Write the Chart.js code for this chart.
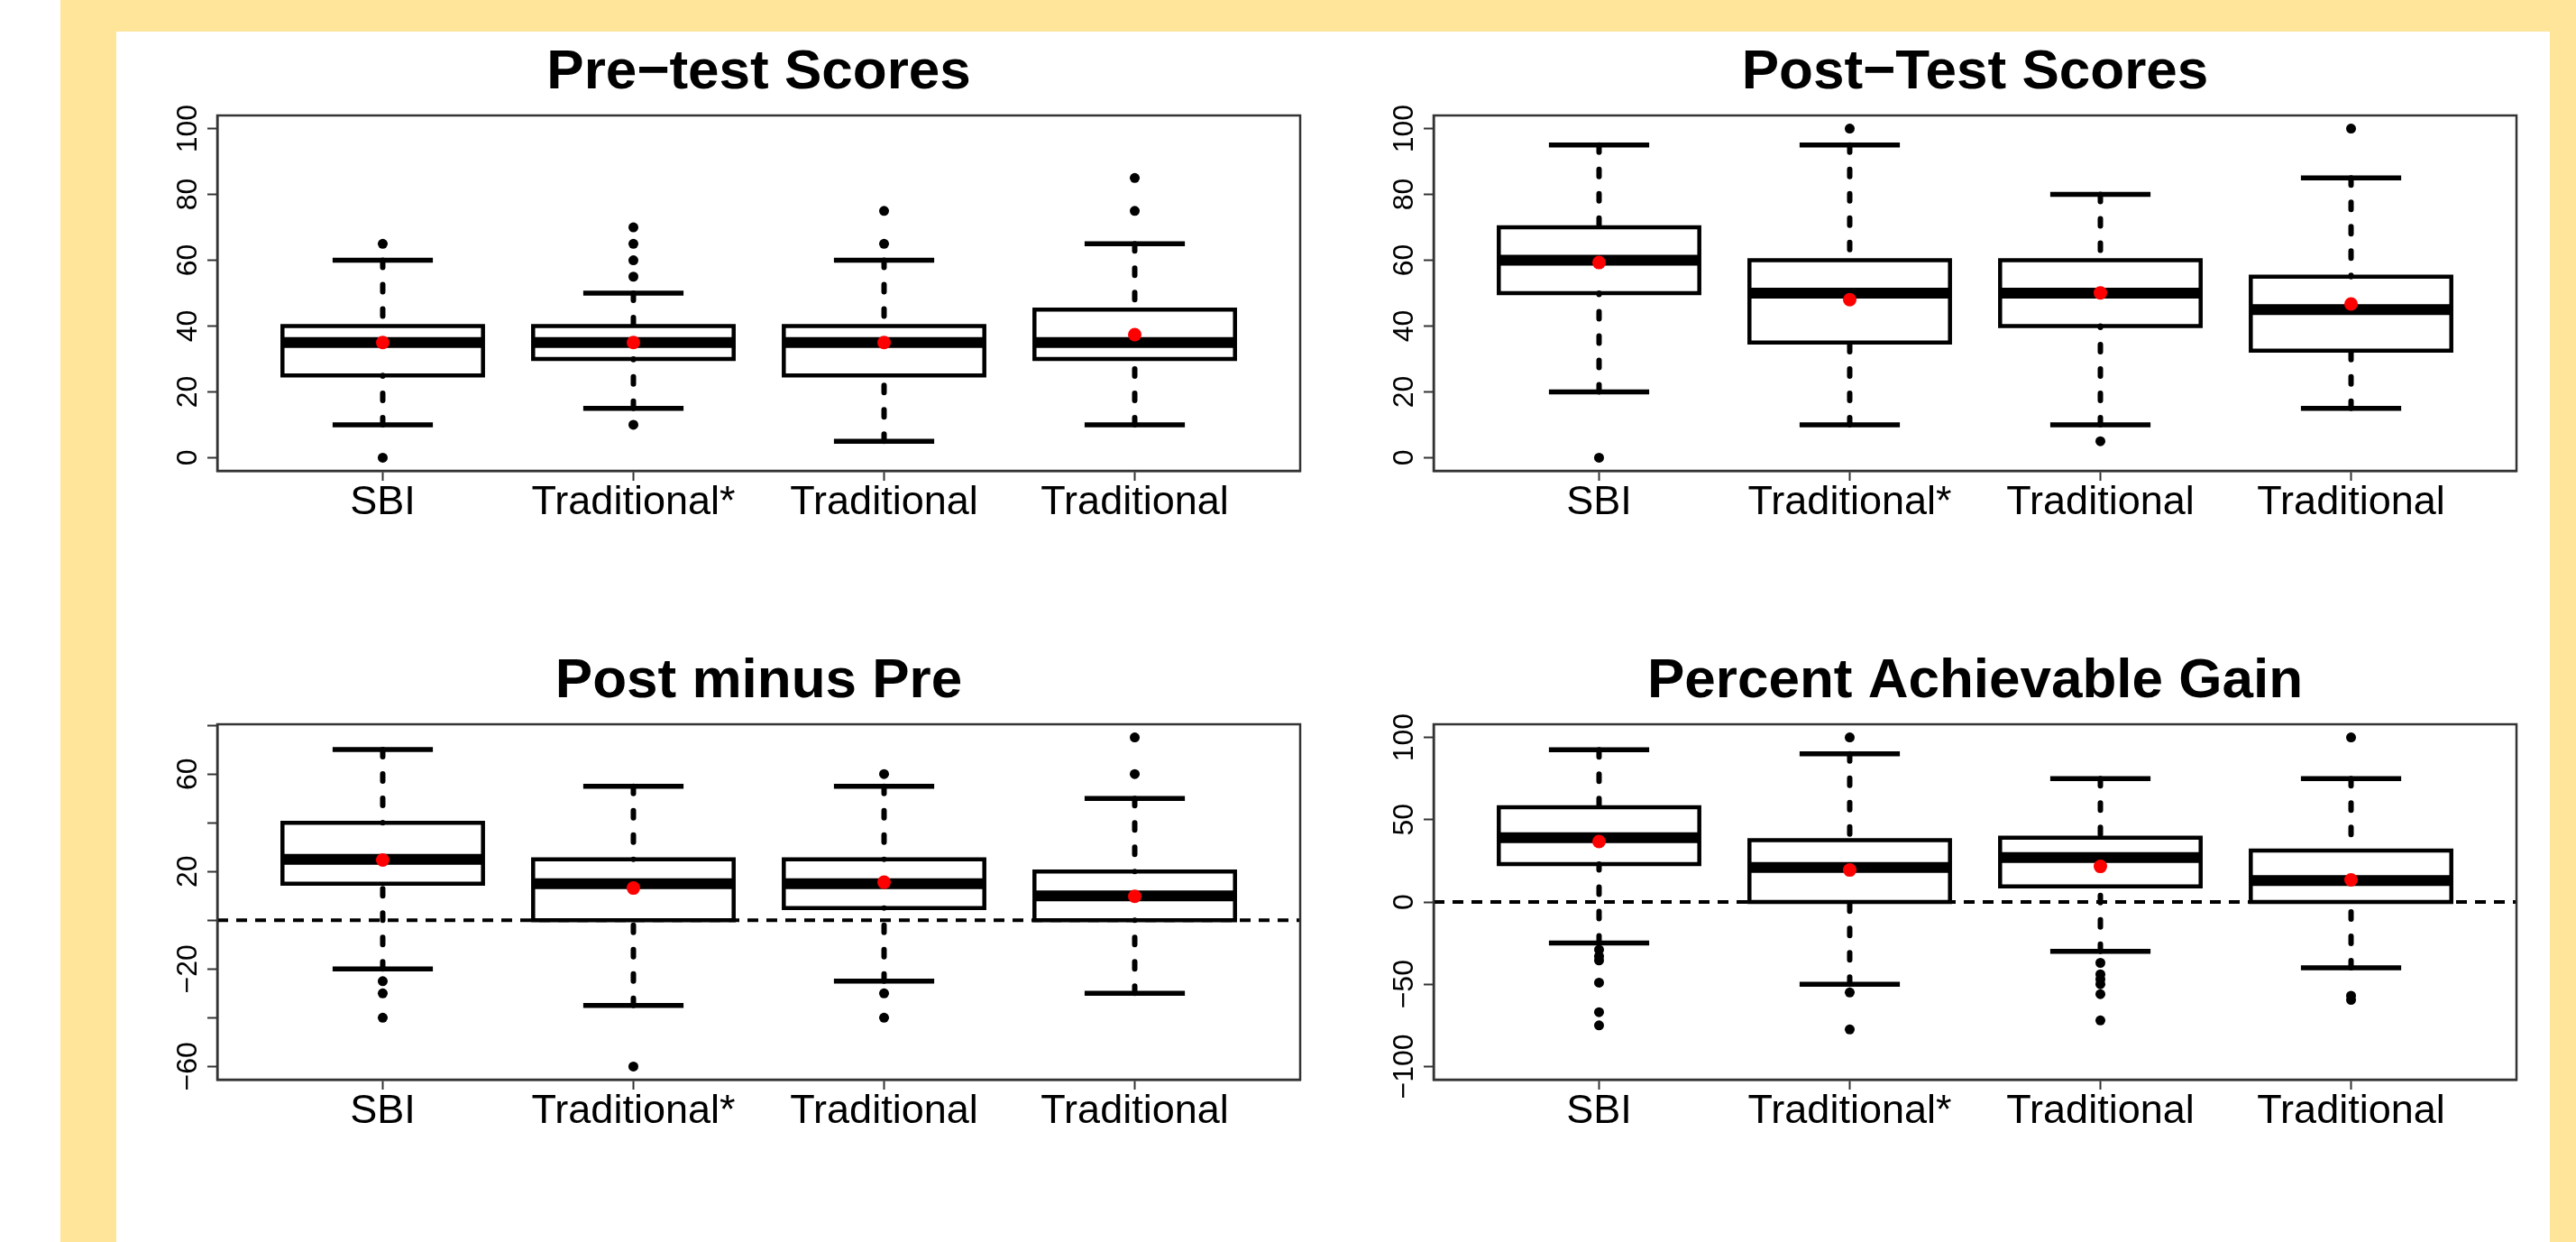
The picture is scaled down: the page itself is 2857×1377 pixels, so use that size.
<!DOCTYPE html>
<html>
<head>
<meta charset="utf-8">
<script src="https://cdn.jsdelivr.net/npm/chart.js@4.4.1/dist/chart.umd.min.js"></script>
<style>
  html, body { margin: 0; padding: 0; background: #ffffff; width: 2857px; height: 1377px; overflow: hidden; }
  #yellow { position: absolute; left: 67px; top: 0; width: 2790px; height: 1377px; background: #FEE59A; }
  #sheet { position: absolute; left: 129px; top: 35px; width: 2699px; height: 1342px; background: #ffffff; }
  canvas { position: absolute; }
</style>
</head>
<body>
<div id="yellow"></div>
<div id="sheet"></div>
<canvas id="c0"></canvas>
<canvas id="c1"></canvas>
<canvas id="c2"></canvas>
<canvas id="c3"></canvas>
<script>
// ---------------- DATA ----------------
const categories = ['SBI', 'Traditional*', 'Traditional', 'Traditional'];

// Pre-test Scores
const preLow      = [10, 15, 5, 10];
const preQ1       = [25, 30, 25, 30];
const preMedian   = [35, 35, 35, 35];
const preQ3       = [40, 40, 40, 45];
const preHigh     = [60, 50, 60, 65];
const preMean     = [35, 35, 35, 37.4];
const preOutliers = [[0, 65], [10, 55, 60, 65, 70], [65, 75], [75, 85]];
const preTicks    = [0, 20, 40, 60, 80, 100];

// Post-Test Scores
const postLow      = [20, 10, 10, 15];
const postQ1       = [50, 35, 40, 32.5];
const postMedian   = [60, 50, 50, 45];
const postQ3       = [70, 60, 60, 55];
const postHigh     = [95, 95, 80, 85];
const postMean     = [59.3, 48, 50.1, 46.7];
const postOutliers = [[0], [100], [5], [100]];
const postTicks    = [0, 20, 40, 60, 80, 100];

// Post minus Pre
const gainLow      = [-20, -35, -25, -30];
const gainQ1       = [15, 0, 5, 0];
const gainMedian   = [25, 15, 15, 10];
const gainQ3       = [40, 25, 25, 20];
const gainHigh     = [70, 55, 55, 50];
const gainMean     = [24.7, 13.2, 15.6, 9.8];
const gainOutliers = [[-25, -30, -40], [-60], [60, -30, -40], [60, 75]];
const gainTicks    = [-60, -40, -20, 0, 20, 40, 60, 80];
const gainLabelled = [-60, -20, 20, 60];

// Percent Achievable Gain
const pagLow      = [-25, -50, -30, -40];
const pagQ1       = [23, 0, 9.5, 0];
const pagMedian   = [39, 21, 27, 13];
const pagQ3       = [57.5, 37.5, 39, 31.3];
const pagHigh     = [92.5, 90, 75, 75];
const pagMean     = [36.7, 19.4, 21.6, 13.4];
const pagOutliers = [[-29, -33, -35.5, -49, -67, -75], [100, -55, -77.5], [-37, -44, -47, -50, -56, -72], [100, -57, -59.5]];
const pagTicks    = [-100, -50, 0, 50, 100];

// ---------------- PANELS ----------------
const panels = [
  { title: 'Pre\u2212test Scores',  low: preLow,  q1: preQ1,  med: preMedian,  q3: preQ3,  high: preHigh,  mean: preMean,  out: preOutliers,  ticks: preTicks,  labelled: preTicks,  ymin: -4,    ymax: 104,  zero: false },
  { title: 'Post\u2212Test Scores', low: postLow, q1: postQ1, med: postMedian, q3: postQ3, high: postHigh, mean: postMean, out: postOutliers, ticks: postTicks, labelled: postTicks, ymin: -4,    ymax: 104,  zero: false },
  { title: 'Post minus Pre',        low: gainLow, q1: gainQ1, med: gainMedian, q3: gainQ3, high: gainHigh, mean: gainMean, out: gainOutliers, ticks: gainTicks, labelled: gainLabelled, ymin: -65.4, ymax: 80.4, zero: true },
  { title: 'Percent Achievable Gain', low: pagLow, q1: pagQ1, med: pagMedian, q3: pagQ3, high: pagHigh, mean: pagMean, out: pagOutliers, ticks: pagTicks, labelled: pagTicks, ymin: -108, ymax: 108, zero: true }
];

// ---------------- GEOMETRY / STYLE ----------------
const chartLefts = [241, 1590];
const chartTops = [128, 803];
const CHART_W = 1201, CHART_H = 394;
const Y_AXIS_W = 110, TITLE_H = 100, X_AXIS_H = 100, PAD_R = 10;
const XMIN = 0.34, XMAX = 4.66;
const BOX_HALF = 0.4, CAP_HALF = 0.2;
const FONT = "'Liberation Sans', Arial, Helvetica, sans-serif";
const Y_TICK_SIZE = 32, X_TICK_SIZE = 45, TITLE_SIZE = 62;
const TICK_LEN = 11;
const AXIS_COLOR = '#333333';

function fmt(v) { return (v < 0 ? '\u2212' + Math.abs(v) : String(v)); }

function measure(text, font) {
  const c = document.createElement('canvas').getContext('2d');
  c.font = font;
  return c.measureText(text).width;
}

const framePlugin = {
  id: 'frame',
  afterDraw(chart) {
    const { ctx, chartArea: a } = chart;
    ctx.save();
    ctx.strokeStyle = AXIS_COLOR;
    ctx.lineWidth = 2.5;
    ctx.strokeRect(a.left, a.top, a.right - a.left, a.bottom - a.top);
    ctx.restore();
  }
};

function buildDatasets(p) {
  const gap = x => ({ x: x, y: null });
  const boxPts = [], medPts = [], whiskPts = [], capPts = [], outPts = [], meanPts = [];
  categories.forEach((c, k) => {
    const i = k + 1;
    boxPts.push({ x: i - BOX_HALF, y: p.q1[k] }, { x: i + BOX_HALF, y: p.q1[k] },
                { x: i + BOX_HALF, y: p.q3[k] }, { x: i - BOX_HALF, y: p.q3[k] },
                { x: i - BOX_HALF, y: p.q1[k] }, gap(i));
    medPts.push({ x: i - BOX_HALF, y: p.med[k] }, { x: i + BOX_HALF, y: p.med[k] }, gap(i));
    whiskPts.push({ x: i, y: p.high[k] }, { x: i, y: p.q3[k] }, gap(i));
    whiskPts.push({ x: i, y: p.low[k] }, { x: i, y: p.q1[k] }, gap(i));
    capPts.push({ x: i - CAP_HALF, y: p.high[k] }, { x: i + CAP_HALF, y: p.high[k] }, gap(i));
    capPts.push({ x: i - CAP_HALF, y: p.low[k] }, { x: i + CAP_HALF, y: p.low[k] }, gap(i));
    p.out[k].forEach(v => outPts.push({ x: i, y: v }));
    meanPts.push({ x: i, y: p.mean[k] });
  });
  const seg = (data, width, extra) => Object.assign({
    data: data, borderColor: '#000', borderWidth: width, pointRadius: 0,
    pointHoverRadius: 0, spanGaps: false, fill: false, tension: 0
  }, extra);
  const ds = [
    { data: meanPts, showLine: false, pointRadius: 7.5, pointBackgroundColor: '#ff0000', pointBorderWidth: 0, order: 0 },
    { data: outPts, showLine: false, pointRadius: 5.5, pointBackgroundColor: '#000', pointBorderWidth: 0, order: 1 },
    seg(capPts, 5.5, { borderCapStyle: 'butt', order: 2 }),
    seg(medPts, 12, { borderCapStyle: 'butt', order: 3 }),
    seg(whiskPts, 6, { borderCapStyle: 'round', borderDash: [8, 19], order: 4 }),
    seg(boxPts, 4.5, { borderCapStyle: 'square', borderJoinStyle: 'miter', order: 5 })
  ];
  if (p.zero) {
    ds.push(seg([{ x: XMIN, y: 0 }, { x: XMAX, y: 0 }], 4, { borderDash: [12, 9], borderCapStyle: 'butt', order: 6 }));
  }
  return ds;
}

panels.forEach((p, idx) => {
  const col = idx % 2, row = Math.floor(idx / 2);
  const cv = document.getElementById('c' + idx);
  const w = Y_AXIS_W + CHART_W + PAD_R, h = TITLE_H + CHART_H + X_AXIS_H;
  cv.width = w; cv.height = h;
  cv.style.width = w + 'px'; cv.style.height = h + 'px';
  cv.style.left = (chartLefts[col] - Y_AXIS_W) + 'px';
  cv.style.top = (chartTops[row] - TITLE_H) + 'px';

  const yFont = Y_TICK_SIZE + 'px ' + FONT;
  const labels = p.ticks.map(v => p.labelled.includes(v) ? fmt(v) : '');
  const widest = Math.max(...labels.map(t => measure(t, yFont)));
  const yPad = 32 - TICK_LEN - widest / 2;
  const lh = 1.2 * TITLE_SIZE;
  const titleTop = 52.5 - lh / 2;

  new Chart(cv, {
    type: 'line',
    data: { datasets: buildDatasets(p) },
    plugins: [framePlugin],
    options: {
      responsive: false,
      animation: false,
      devicePixelRatio: 1,
      layout: { padding: { left: 0, right: PAD_R, top: 0, bottom: 0 } },
      plugins: {
        legend: { display: false },
        tooltip: { enabled: false },
        title: {
          display: true, text: p.title, color: '#000', fullSize: false,
          font: { family: FONT, size: TITLE_SIZE, weight: 'bold', lineHeight: 1.2 },
          padding: { top: titleTop, bottom: TITLE_H - titleTop - lh }
        }
      },
      scales: {
        x: {
          type: 'linear', min: XMIN, max: XMAX, offset: false,
          afterBuildTicks: s => { s.ticks = categories.map((c, k) => ({ value: k + 1 })); },
          afterFit: s => { s.height = X_AXIS_H; },
          ticks: {
            autoSkip: false, maxRotation: 0, minRotation: 0, color: '#000', padding: -2,
            font: { family: FONT, size: X_TICK_SIZE },
            callback: v => categories[Math.round(v) - 1] || ''
          },
          grid: { display: true, drawOnChartArea: false, drawTicks: true, tickLength: TICK_LEN, tickWidth: 2, tickColor: AXIS_COLOR },
          border: { display: true, color: AXIS_COLOR, width: 2.5 }
        },
        y: {
          type: 'linear', min: p.ymin, max: p.ymax,
          afterBuildTicks: s => { s.ticks = p.ticks.map(v => ({ value: v })); },
          afterFit: s => { s.width = Y_AXIS_W; },
          ticks: {
            autoSkip: false, minRotation: 90, maxRotation: 90, crossAlign: 'center', align: 'center',
            color: '#000', padding: yPad,
            font: { family: FONT, size: Y_TICK_SIZE },
            callback: v => p.labelled.includes(v) ? fmt(v) : ''
          },
          grid: { display: true, drawOnChartArea: false, drawTicks: true, tickLength: TICK_LEN, tickWidth: 2, tickColor: AXIS_COLOR },
          border: { display: true, color: AXIS_COLOR, width: 2.5 }
        }
      }
    }
  });
});
</script>
</body>
</html>
